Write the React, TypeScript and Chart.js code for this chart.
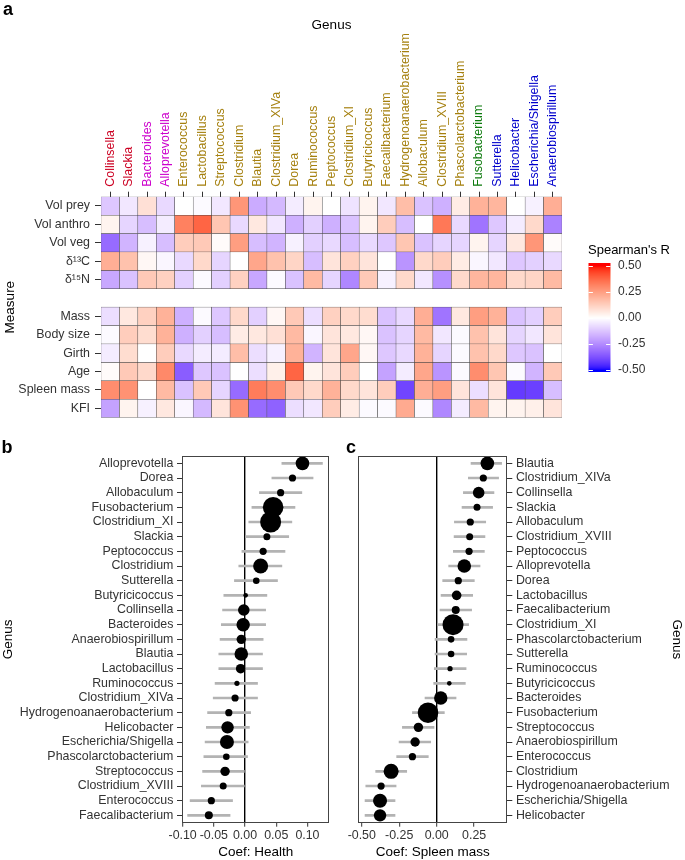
import React, { useEffect, useRef } from 'react';
import { Chart, registerables } from 'chart.js';
Chart.register(...registerables);

const FONT = "'Liberation Sans', Arial, Helvetica, sans-serif";
Chart.defaults.font.family = FONT;

// ---------- DATA ----------
const genera = [
  'Collinsella', 'Slackia', 'Bacteroides', 'Alloprevotella', 'Enterococcus', 'Lactobacillus',
  'Streptococcus', 'Clostridium', 'Blautia', 'Clostridium_XIVa', 'Dorea', 'Ruminococcus',
  'Peptococcus', 'Clostridium_XI', 'Butyricicoccus', 'Faecalibacterium', 'Hydrogenoanaerobacterium',
  'Allobaculum', 'Clostridium_XVIII', 'Phascolarctobacterium', 'Fusobacterium', 'Sutterella',
  'Helicobacter', 'Escherichia/Shigella', 'Anaerobiospirillum',
];
const phylum = [
  'Actinobacteria', 'Actinobacteria', 'Bacteroidetes', 'Bacteroidetes',
  'Firmicutes', 'Firmicutes', 'Firmicutes', 'Firmicutes', 'Firmicutes', 'Firmicutes', 'Firmicutes',
  'Firmicutes', 'Firmicutes', 'Firmicutes', 'Firmicutes', 'Firmicutes', 'Firmicutes', 'Firmicutes',
  'Firmicutes', 'Firmicutes', 'Fusobacteria', 'Proteobacteria', 'Proteobacteria', 'Proteobacteria',
  'Proteobacteria',
];
// mean relative abundance (%) per genus, same order as genera
const abundance = [
  6.95, 2.53, 9.27, 9.55, 2.68, 4.76, 4.56, 11.6, 9.55, 2.68, 2.68, 1.4, 2.68, 22.8, 1.09,
  3.31, 2.68, 2.68, 2.53, 2.25, 21.9, 2.25, 7.94, 10.1, 4.56,
];

const measures = ['Vol prey', 'Vol anthro', 'Vol veg', 'δ¹³C', 'δ¹⁵N', 'Mass', 'Body size', 'Girth', 'Age', 'Spleen mass', 'KFI'];

const volPrey = [-0.12, -0.05, 0.08, -0.08, 0.0, -0.01, -0.05, 0.27, -0.18, -0.15, -0.04, 0.03, 0.0, -0.06, 0.03, -0.05, 0.17, -0.13, -0.17, 0.05, 0.2, 0.19, 0.0, -0.03, 0.21];
const volAnthro = [0.03, -0.09, -0.14, -0.04, 0.32, 0.38, 0.15, -0.08, 0.06, -0.05, -0.17, -0.1, -0.17, -0.13, 0.03, 0.13, -0.14, 0.0, 0.34, -0.08, -0.3, -0.12, -0.04, 0.1, -0.27];
const volVeg = [-0.32, -0.16, -0.03, -0.14, 0.13, 0.14, 0.01, 0.25, -0.14, -0.16, -0.03, -0.1, -0.08, -0.14, -0.08, -0.12, 0.15, -0.13, -0.09, -0.09, 0.03, -0.09, 0.06, 0.27, 0.01];
const d13C = [0.21, 0.16, 0.02, -0.02, -0.08, 0.1, -0.09, 0.0, 0.23, 0.16, 0.11, -0.14, 0.07, 0.12, 0.07, 0.0, -0.23, 0.1, 0.13, 0.05, -0.02, -0.05, -0.12, -0.1, -0.08];
const d15N = [-0.19, -0.13, 0.14, 0.12, -0.1, -0.01, -0.1, 0.12, -0.19, -0.01, -0.13, 0.18, -0.09, -0.26, 0.14, -0.03, 0.1, -0.05, -0.24, 0.1, 0.19, 0.19, 0.1, 0.11, 0.18];
const mass = [-0.07, 0.06, 0.12, 0.2, -0.17, -0.01, -0.12, 0.1, -0.1, 0.02, 0.14, -0.07, 0.12, 0.1, 0.09, -0.13, -0.08, 0.21, -0.3, 0.06, 0.25, 0.2, -0.13, -0.1, 0.13];
const bodySize = [-0.01, 0.13, 0.09, 0.2, -0.17, -0.1, -0.14, 0.05, 0.06, 0.08, 0.18, -0.02, 0.07, 0.06, 0.02, -0.13, -0.09, 0.18, -0.05, -0.01, 0.16, 0.07, -0.09, -0.05, 0.07];
const girth = [-0.04, 0.09, 0.0, 0.13, -0.08, -0.04, -0.04, 0.17, -0.07, -0.03, 0.2, -0.16, 0.07, 0.23, 0.02, -0.12, -0.08, 0.2, -0.09, -0.01, 0.16, 0.1, -0.12, -0.13, 0.0];
const age = [0.01, 0.14, 0.1, 0.3, -0.35, -0.12, -0.13, 0.0, -0.07, 0.04, 0.38, 0.03, 0.07, 0.13, 0.0, -0.2, -0.04, 0.23, -0.23, -0.01, 0.29, 0.15, -0.01, -0.16, 0.14];
const spleenMass = [0.29, 0.28, 0.0, 0.18, -0.13, 0.14, -0.09, -0.32, 0.33, 0.29, 0.14, 0.1, 0.2, 0.1, 0.07, 0.13, -0.4, 0.21, 0.25, 0.07, -0.07, 0.07, -0.42, -0.41, -0.14];
const kfi = [-0.2, 0.03, -0.03, 0.06, -0.02, -0.15, 0.07, 0.28, -0.32, -0.34, -0.07, -0.05, 0.13, 0.05, -0.01, -0.01, 0.22, -0.01, -0.26, -0.04, 0.18, 0.03, 0.03, 0.04, 0.07];
const heatRows = [volPrey, volAnthro, volVeg, d13C, d15N, mass, bodySize, girth, age, spleenMass, kfi];
const legendBreaks = [0.5, 0.25, 0, -0.25, -0.5];

const healthOrder = [
  'Alloprevotella', 'Dorea', 'Allobaculum', 'Fusobacterium', 'Clostridium_XI', 'Slackia', 'Peptococcus',
  'Clostridium', 'Sutterella', 'Butyricicoccus', 'Collinsella', 'Bacteroides', 'Anaerobiospirillum',
  'Blautia', 'Lactobacillus', 'Ruminococcus', 'Clostridium_XIVa', 'Hydrogenoanaerobacterium',
  'Helicobacter', 'Escherichia/Shigella', 'Phascolarctobacterium', 'Streptococcus', 'Clostridium_XVIII',
  'Enterococcus', 'Faecalibacterium',
];
const healthCoef = [0.092, 0.076, 0.057, 0.045, 0.041, 0.035, 0.029, 0.025, 0.018, 0.001, -0.002, -0.003, -0.006, -0.006, -0.007, -0.013, -0.016, -0.026, -0.028, -0.029, -0.030, -0.032, -0.035, -0.054, -0.058];
const healthLo = [0.059, 0.043, 0.023, 0.011, 0.006, 0.001, -0.005, -0.010, -0.017, -0.034, -0.036, -0.038, -0.040, -0.042, -0.042, -0.048, -0.051, -0.060, -0.062, -0.064, -0.066, -0.068, -0.070, -0.088, -0.092];
const healthHi = [0.124, 0.109, 0.091, 0.080, 0.075, 0.070, 0.064, 0.059, 0.052, 0.035, 0.033, 0.033, 0.029, 0.028, 0.028, 0.020, 0.020, 0.009, 0.007, 0.005, 0.004, 0.000, 0.000, -0.020, -0.024];
const healthTicks = [-0.1, -0.05, 0, 0.05, 0.1];

const spleenOrder = [
  'Blautia', 'Clostridium_XIVa', 'Collinsella', 'Slackia', 'Allobaculum', 'Clostridium_XVIII',
  'Peptococcus', 'Alloprevotella', 'Dorea', 'Lactobacillus', 'Faecalibacterium', 'Clostridium_XI',
  'Phascolarctobacterium', 'Sutterella', 'Ruminococcus', 'Butyricicoccus', 'Bacteroides',
  'Fusobacterium', 'Streptococcus', 'Anaerobiospirillum', 'Enterococcus', 'Clostridium',
  'Hydrogenoanaerobacterium', 'Escherichia/Shigella', 'Helicobacter',
];
const spleenCoef = [0.338, 0.311, 0.280, 0.269, 0.224, 0.220, 0.216, 0.184, 0.144, 0.133, 0.127, 0.109, 0.096, 0.096, 0.089, 0.084, 0.027, -0.058, -0.122, -0.144, -0.162, -0.304, -0.371, -0.378, -0.378];
const spleenLo = [0.229, 0.211, 0.178, 0.169, 0.118, 0.116, 0.111, 0.080, 0.040, 0.029, 0.022, 0.007, -0.011, -0.011, -0.016, -0.020, -0.078, -0.162, -0.229, -0.251, -0.267, -0.407, -0.473, -0.478, -0.478];
const spleenHi = [0.433, 0.413, 0.382, 0.373, 0.327, 0.322, 0.318, 0.289, 0.251, 0.240, 0.233, 0.213, 0.202, 0.200, 0.196, 0.191, 0.129, 0.051, -0.018, -0.040, -0.056, -0.200, -0.271, -0.278, -0.278];
const spleenTicks = [-0.5, -0.25, 0, 0.25];

// ---------- STYLE HELPERS ----------
const phylumColor: Record<string, string> = {
  Actinobacteria: '#cc0022',
  Bacteroidetes: '#cc00cc',
  Firmicutes: '#a5800f',
  Fusobacteria: '#0d7a0d',
  Proteobacteria: '#0000cc',
};

const toLin = (c: number) => { c /= 255; return c <= 0.04045 ? c / 12.92 : Math.pow((c + 0.055) / 1.055, 2.4); };
const fromLin = (c: number) => {
  const v = c <= 0.0031308 ? 12.92 * c : 1.055 * Math.pow(Math.max(c, 0), 1 / 2.4) - 0.055;
  return Math.round(Math.max(0, Math.min(1, v)) * 255);
};
const fLab = (t: number) => (t > 0.008856 ? Math.cbrt(t) : 7.787 * t + 16 / 116);
function rgb2lab(r: number, g: number, b: number) {
  const R = toLin(r), G = toLin(g), B = toLin(b);
  const X = (0.4124 * R + 0.3576 * G + 0.1805 * B) / 0.95047;
  const Y = 0.2126 * R + 0.7152 * G + 0.0722 * B;
  const Z = (0.0193 * R + 0.1192 * G + 0.9505 * B) / 1.08883;
  return [116 * fLab(Y) - 16, 500 * (fLab(X) - fLab(Y)), 200 * (fLab(Y) - fLab(Z))];
}
function lab2rgb(L: number, a: number, b: number) {
  const fy = (L + 16) / 116, fx = fy + a / 500, fz = fy - b / 200;
  const inv = (t: number) => (t * t * t > 0.008856 ? t * t * t : (t - 16 / 116) / 7.787);
  const X = inv(fx) * 0.95047, Y = inv(fy), Z = inv(fz) * 1.08883;
  const R = 3.2406 * X - 1.5372 * Y - 0.4986 * Z;
  const G = -0.9689 * X + 1.8758 * Y + 0.0415 * Z;
  const B = 0.0557 * X - 0.204 * Y + 1.057 * Z;
  return `rgb(${fromLin(R)},${fromLin(G)},${fromLin(B)})`;
}
const LAB_W = rgb2lab(255, 255, 255);
const LAB_R = rgb2lab(255, 0, 0);
const LAB_B = rgb2lab(0, 0, 255);
function fillColor(v: number) {
  const t = Math.max(0, Math.min(1, Math.abs(v) / 0.5));
  const e = v >= 0 ? LAB_R : LAB_B;
  return lab2rgb(
    LAB_W[0] + t * (e[0] - LAB_W[0]),
    LAB_W[1] + t * (e[1] - LAB_W[1]),
    LAB_W[2] + t * (e[2] - LAB_W[2]),
  );
}
const radiusOf = (g: string) => 2.2 * Math.sqrt(abundance[genera.indexOf(g)]);
const fmt2 = (v: any) => Number(v).toFixed(2);

// ---------- PLUGINS ----------
const legendPlugin = {
  id: 'spearmanLegend',
  afterDraw(chart: any) {
    const ctx = chart.ctx;
    ctx.save();
    ctx.font = `13px ${FONT}`;
    ctx.fillStyle = '#000';
    ctx.textAlign = 'left';
    ctx.textBaseline = 'middle';
    ctx.fillText("Spearman's R", 588, 250);
    const x0 = 588.5, w = 22, top = 263, bot = 372;
    const zeroY = 318, per = 104;
    for (let y = top; y < bot; y++) {
      const v = (zeroY - (y + 0.5)) / per;
      ctx.fillStyle = fillColor(Math.max(-0.5, Math.min(0.5, v)));
      ctx.fillRect(x0, y, w, 1);
    }
    ctx.strokeStyle = '#fff';
    ctx.lineWidth = 1;
    ctx.font = `12px ${FONT}`;
    legendBreaks.forEach((b) => {
      const y = Math.round(zeroY - b * per) + 0.5;
      ctx.beginPath();
      ctx.moveTo(x0, y); ctx.lineTo(x0 + 4.4, y);
      ctx.moveTo(x0 + w - 4.4, y); ctx.lineTo(x0 + w, y);
      ctx.stroke();
      ctx.fillStyle = '#333';
      ctx.fillText(fmt2(b), 618, zeroY - b * per);
    });
    ctx.restore();
  },
};

const framePlugin = {
  id: 'panelFrame',
  afterDraw(chart: any) {
    const { ctx, chartArea: a } = chart;
    ctx.save();
    ctx.strokeStyle = '#444';
    ctx.lineWidth = 1;
    const l = Math.round(a.left) + 0.5, t = Math.round(a.top) + 0.5;
    const r = Math.round(a.right) - 0.5, b = Math.round(a.bottom) - 0.5;
    ctx.strokeRect(l, t, r - l, b - t);
    ctx.restore();
  },
};

// ---------- CONFIGS ----------
const rowOrder: (number | null)[] = [0, 1, 2, 3, 4, null, 5, 6, 7, 8, 9, 10];
const measureTickPos = rowOrder
  .map((r, i) => (r === null ? null : i + 0.5))
  .filter((v) => v !== null) as number[];

function heatConfig(): any {
  const datasets = rowOrder.map((ri) =>
    ri === null
      ? { label: 'gap', data: genera.map(() => 1), backgroundColor: 'rgba(0,0,0,0)', borderWidth: 0 }
      : {
          label: measures[ri],
          data: genera.map(() => 1),
          backgroundColor: heatRows[ri].map(fillColor),
          borderColor: '#404040',
          borderWidth: 0.5,
          borderSkipped: false,
        },
  );
  return {
    type: 'bar',
    data: { labels: genera, datasets },
    options: {
      animation: false,
      responsive: false,
      events: [],
      layout: { padding: { left: 0, right: 123, top: 0, bottom: 11.7 } },
      plugins: { legend: { display: false }, tooltip: { enabled: false } },
      datasets: { bar: { barPercentage: 1, categoryPercentage: 1 } },
      scales: {
        x: {
          type: 'category',
          position: 'top',
          stacked: true,
          offset: true,
          grid: { offset: false, drawOnChartArea: false, drawTicks: true, tickLength: 5, tickColor: '#333', tickWidth: 1 },
          border: { display: false },
          ticks: {
            autoSkip: false,
            minRotation: 90,
            maxRotation: 90,
            padding: 5,
            labelOffset: 14.9,
            font: { size: 12.4 },
            color: (c: any) => phylumColor[phylum[c.index]] || '#333',
          },
          title: { display: true, text: 'Genus', color: '#000', font: { size: 13.5 }, padding: { top: 17, bottom: 0 } },
          afterFit: (s: any) => { s.height = 196.7; },
        },
        y: {
          type: 'linear',
          stacked: true,
          reverse: true,
          min: 0,
          max: 12,
          afterBuildTicks: (s: any) => { s.ticks = measureTickPos.map((v) => ({ value: v })); },
          ticks: { autoSkip: false, padding: 5, font: { size: 12.4 }, color: '#333', callback: (_v: any, i: number) => measures[i] },
          grid: { drawOnChartArea: false, drawTicks: true, tickLength: 6, tickColor: '#333', tickWidth: 1 },
          border: { display: false },
          title: { display: true, text: 'Measure', color: '#000', font: { size: 13.5 }, padding: { top: 2, bottom: 0 } },
          afterFit: (s: any) => { s.width = 101; },
        },
      },
    },
    plugins: [legendPlugin],
  };
}

function dotConfig(
  order: string[], coef: number[], lo: number[], hi: number[], ticks: number[],
  xmin: number, xmax: number, xTitle: string, side: 'left' | 'right',
): any {
  return {
    type: 'bubble',
    data: {
      labels: order,
      datasets: [
        {
          type: 'bubble',
          data: order.map((g, i) => ({ x: coef[i], y: g, r: radiusOf(g) })),
          backgroundColor: '#000',
          borderWidth: 0,
          order: 0,
        },
        {
          type: 'bar',
          indexAxis: 'y',
          data: order.map((_g, i) => [lo[i], hi[i]]),
          backgroundColor: '#b3b3b3',
          borderWidth: 0,
          barThickness: 2,
          order: 1,
        },
      ],
    },
    options: {
      animation: false,
      responsive: false,
      events: [],
      layout: {
        padding: side === 'left'
          ? { left: 0, right: 10.7, top: 26, bottom: 0 }
          : { left: 18.3, right: 0, top: 26, bottom: 0 },
      },
      plugins: { legend: { display: false }, tooltip: { enabled: false } },
      scales: {
        x: {
          type: 'linear',
          min: xmin,
          max: xmax,
          afterBuildTicks: (s: any) => { s.ticks = ticks.map((v) => ({ value: v })); },
          ticks: { font: { size: 12.4 }, color: '#333', padding: 1, callback: (v: any) => fmt2(v), autoSkip: false, maxRotation: 0 },
          grid: {
            drawOnChartArea: true,
            drawTicks: true,
            color: (c: any) => (c.tick && Math.abs(c.tick.value) < 1e-9 ? '#000' : 'rgba(0,0,0,0)'),
            lineWidth: 1.4,
            tickColor: '#333',
            tickWidth: 1,
            tickLength: 4,
          },
          border: { display: false },
          title: { display: true, text: xTitle, color: '#000', font: { size: 13.5 }, padding: { top: 0, bottom: 0 } },
          afterFit: (s: any) => { s.height = 37.3; },
        },
        y: {
          type: 'category',
          position: side,
          labels: order,
          offset: true,
          grid: { offset: false, drawOnChartArea: false, drawTicks: true, tickLength: 5, tickColor: '#333', tickWidth: 1 },
          border: { display: false },
          ticks: { autoSkip: false, font: { size: 12.4 }, color: '#333', padding: 3.6 },
          title: { display: true, text: 'Genus', color: '#000', font: { size: 13.5 }, padding: { top: 0, bottom: 0 } },
          afterFit: (s: any) => { s.width = side === 'left' ? 182 : 177.7; },
        },
      },
    },
    plugins: [framePlugin],
  };
}

const letter = (left: number, top: number): React.CSSProperties => ({
  position: 'absolute', left, top, fontFamily: FONT, fontWeight: 'bold', fontSize: 18, lineHeight: '18px', color: '#000',
});

export default function App() {
  const heatRef = useRef<HTMLCanvasElement>(null);
  const bRef = useRef<HTMLCanvasElement>(null);
  const cRef = useRef<HTMLCanvasElement>(null);

  useEffect(() => {
    const charts: Chart[] = [];
    if (heatRef.current) charts.push(new Chart(heatRef.current, heatConfig()));
    if (bRef.current) charts.push(new Chart(bRef.current, dotConfig(healthOrder, healthCoef, healthLo, healthHi, healthTicks, -0.101, 0.135, 'Coef: Health', 'left')));
    if (cRef.current) charts.push(new Chart(cRef.current, dotConfig(spleenOrder, spleenCoef, spleenLo, spleenHi, spleenTicks, -0.523, 0.471, 'Coef: Spleen mass', 'right')));
    return () => charts.forEach((c) => c.destroy());
  }, []);

  return (
    <div style={{ position: 'absolute', left: 0, top: 0, width: 685, height: 860, background: '#fff', overflow: 'hidden' }}>
      <canvas ref={heatRef} width={685} height={430} style={{ position: 'absolute', left: 0, top: 0, width: 685, height: 430 }} />
      <canvas ref={bRef} width={340} height={430} style={{ position: 'absolute', left: 0, top: 430, width: 340, height: 430 }} />
      <canvas ref={cRef} width={345} height={430} style={{ position: 'absolute', left: 340, top: 430, width: 345, height: 430 }} />
      <div style={letter(3, 0)}>a</div>
      <div style={letter(1.5, 438)}>b</div>
      <div style={letter(346, 438)}>c</div>
    </div>
  );
}
